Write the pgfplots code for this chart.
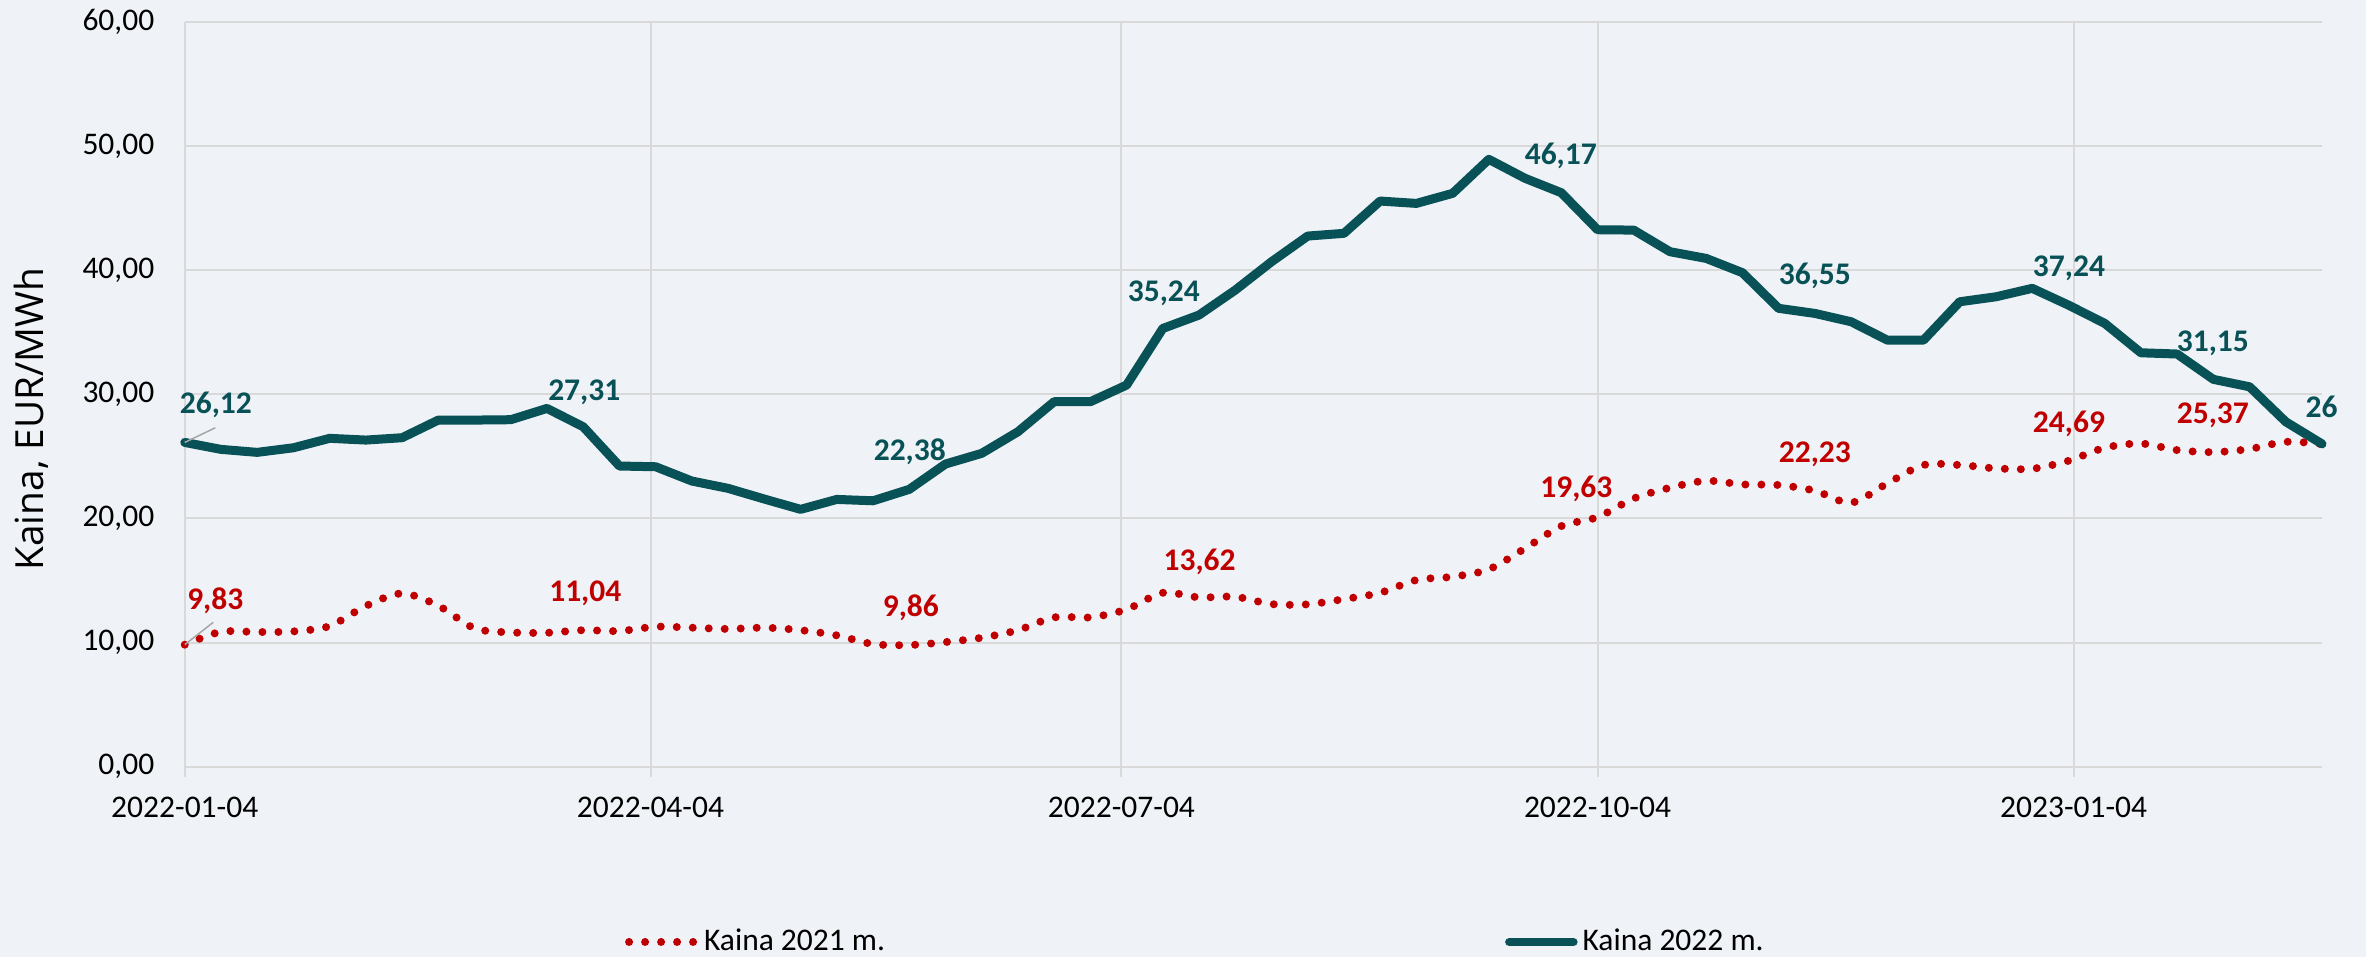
\documentclass[border=0pt]{standalone}
\usepackage{fontspec}
\setmainfont{Carlito}
\newfontfamily\osans{Open Sans}
\usepackage{pgfplots}
\usepackage{pgfplotstable}
\pgfplotsset{compat=1.18}
\definecolor{bgc}{HTML}{EFF3F7}
\definecolor{teal22}{HTML}{085157}
\definecolor{red21}{HTML}{C00000}
\definecolor{gridc}{HTML}{D9D9D9}
\definecolor{leadc}{HTML}{A6A6A6}

\pgfplotstableread{
day y21 y22
0 9.83 26.12
7 10.87 25.56
14 10.85 25.32
21 10.90 25.69
28 11.33 26.45
35 12.95 26.31
42 13.96 26.50
49 12.97 27.92
56 11.15 27.92
63 10.82 27.95
70 10.79 28.86
77 11.00 27.38
84 10.93 24.22
91 11.28 24.16
98 11.20 23.01
105 11.10 22.42
112 11.20 21.56
119 11.00 20.73
126 10.58 21.53
133 9.88 21.42
140 9.80 22.34
147 10.04 24.38
154 10.39 25.24
161 11.00 26.98
168 12.03 29.40
175 12.03 29.40
182 12.67 30.74
189 14.01 35.30
196 13.64 36.38
203 13.69 38.39
210 13.10 40.67
217 13.08 42.74
224 13.50 42.96
231 14.01 45.56
238 15.04 45.37
245 15.30 46.18
252 15.90 48.92
259 17.59 47.39
266 19.38 46.23
273 20.10 43.25
280 21.61 43.22
287 22.47 41.48
294 23.03 40.94
301 22.74 39.79
308 22.69 36.92
315 22.23 36.51
322 21.26 35.84
329 22.82 34.36
336 24.30 34.36
343 24.30 37.45
350 24.03 37.85
357 24.00 38.53
364 24.64 37.18
371 25.69 35.71
378 26.03 33.34
385 25.50 33.24
392 25.34 31.20
399 25.59 30.60
406 26.17 27.78
413 25.99 26.00
}\prices

\begin{document}
\begin{tikzpicture}[font=\fontsize{12.6}{15}\selectfont]
\fill[bgc] (0,0) rectangle (946.4pt,382.8pt);
\begin{axis}[
  at={(73.9pt,76.1pt)}, anchor=south west,
  scale only axis, width=854.9pt, height=298pt,
  xmin=0, xmax=413, ymin=0, ymax=60,
  clip=false,
  axis line style={draw=none},
  xtick={0,90,181,273,365},
  xticklabels={2022-01-04,2022-04-04,2022-07-04,2022-10-04,2023-01-04},
  ytick={0,10,...,60},
  xtick pos=lower, ytick pos=left,
  grid=major,
  major grid style={gridc, line width=0.8pt},
  x tick style={gridc, line width=0.8pt},
  y tick style={draw=none},
  tick align=outside,
  major tick length=4pt,
  /pgf/number format/assume math mode=true,
  y tick label style={/pgf/number format/fixed, /pgf/number format/fixed zerofill,
    /pgf/number format/precision=2, /pgf/number format/use comma,
    anchor=east, inner sep=0pt, xshift=-8pt},
  x tick label style={anchor=north, inner sep=0pt, yshift=-8pt},
  ylabel={Kaina, EUR/MWh},
  every axis y label/.style={at={(axis description cs:-0.0719,0.4667)}, rotate=90, anchor=center,
    font=\osans\fontsize{15.5}{18}\selectfont},
  legend style={at={(axis description cs:0.2058,-0.2352)}, anchor=west, draw=none, fill=none,
    inner sep=0pt, legend columns=2, font=\fontsize{12.6}{15}\selectfont,
    /tikz/every even column/.append style={column sep=246pt}},
  legend cell align=left,
]
\addplot[red21, line width=3.2pt, line cap=round, dash pattern=on 0pt off 6.4pt, smooth, tension=0.5,
  legend image code/.code={\draw[red21, line width=3.2pt, line cap=round, dash pattern=on 0pt off 6.4pt] (1.6pt,0pt) -- (28pt,0pt);}]
  table[x=day, y=y21] {\prices};
\addlegendentry{Kaina 2021 m.}
\addplot[teal22, line width=3.6pt, line join=round, line cap=round,
  legend image code/.code={\draw[teal22, line width=3.4pt, line cap=round] (1.6pt,0pt) -- (27.2pt,0pt);}]
  table[x=day, y=y22] {\prices};
\addlegendentry{Kaina 2022 m.}

\draw[leadc, line width=0.6pt] (axis cs:0,26.12) -- (axis cs:5.9,27.3);
\draw[leadc, line width=0.6pt] (axis cs:0,9.83) -- (axis cs:5.5,11.63);

\begin{scope}[every node/.style={font=\fontsize{12.6}{15}\selectfont\bfseries, inner sep=0pt}]
\node[text=teal22] at (axis cs:6.0,29.13) {26,12};
\node[text=teal22] at (axis cs:77.2,30.12) {27,31};
\node[text=teal22] at (axis cs:140.1,25.37) {22,38};
\node[text=teal22] at (axis cs:189.2,38.17) {35,24};
\node[text=teal22] at (axis cs:265.9,49.19) {46,17};
\node[text=teal22] at (axis cs:315.0,39.51) {36,55};
\node[text=teal22] at (axis cs:364.1,40.18) {37,24};
\node[text=teal22] at (axis cs:391.9,34.10) {31,15};
\node[text=teal22] at (axis cs:412.9,28.95) {26};
\node[text=red21] at (axis cs:5.9,13.34) {9,83};
\node[text=red21] at (axis cs:77.4,13.96) {11,04};
\node[text=red21] at (axis cs:140.3,12.83) {9,86};
\node[text=red21] at (axis cs:196.1,16.54) {13,62};
\node[text=red21] at (axis cs:268.9,22.34) {19,63};
\node[text=red21] at (axis cs:315.0,25.19) {22,23};
\node[text=red21] at (axis cs:364.1,27.65) {24,69};
\node[text=red21] at (axis cs:391.9,28.32) {25,37};
\end{scope}
\end{axis}
\pgfresetboundingbox
\useasboundingbox (0,0) rectangle (946.4pt,382.8pt);
\end{tikzpicture}
\end{document}
